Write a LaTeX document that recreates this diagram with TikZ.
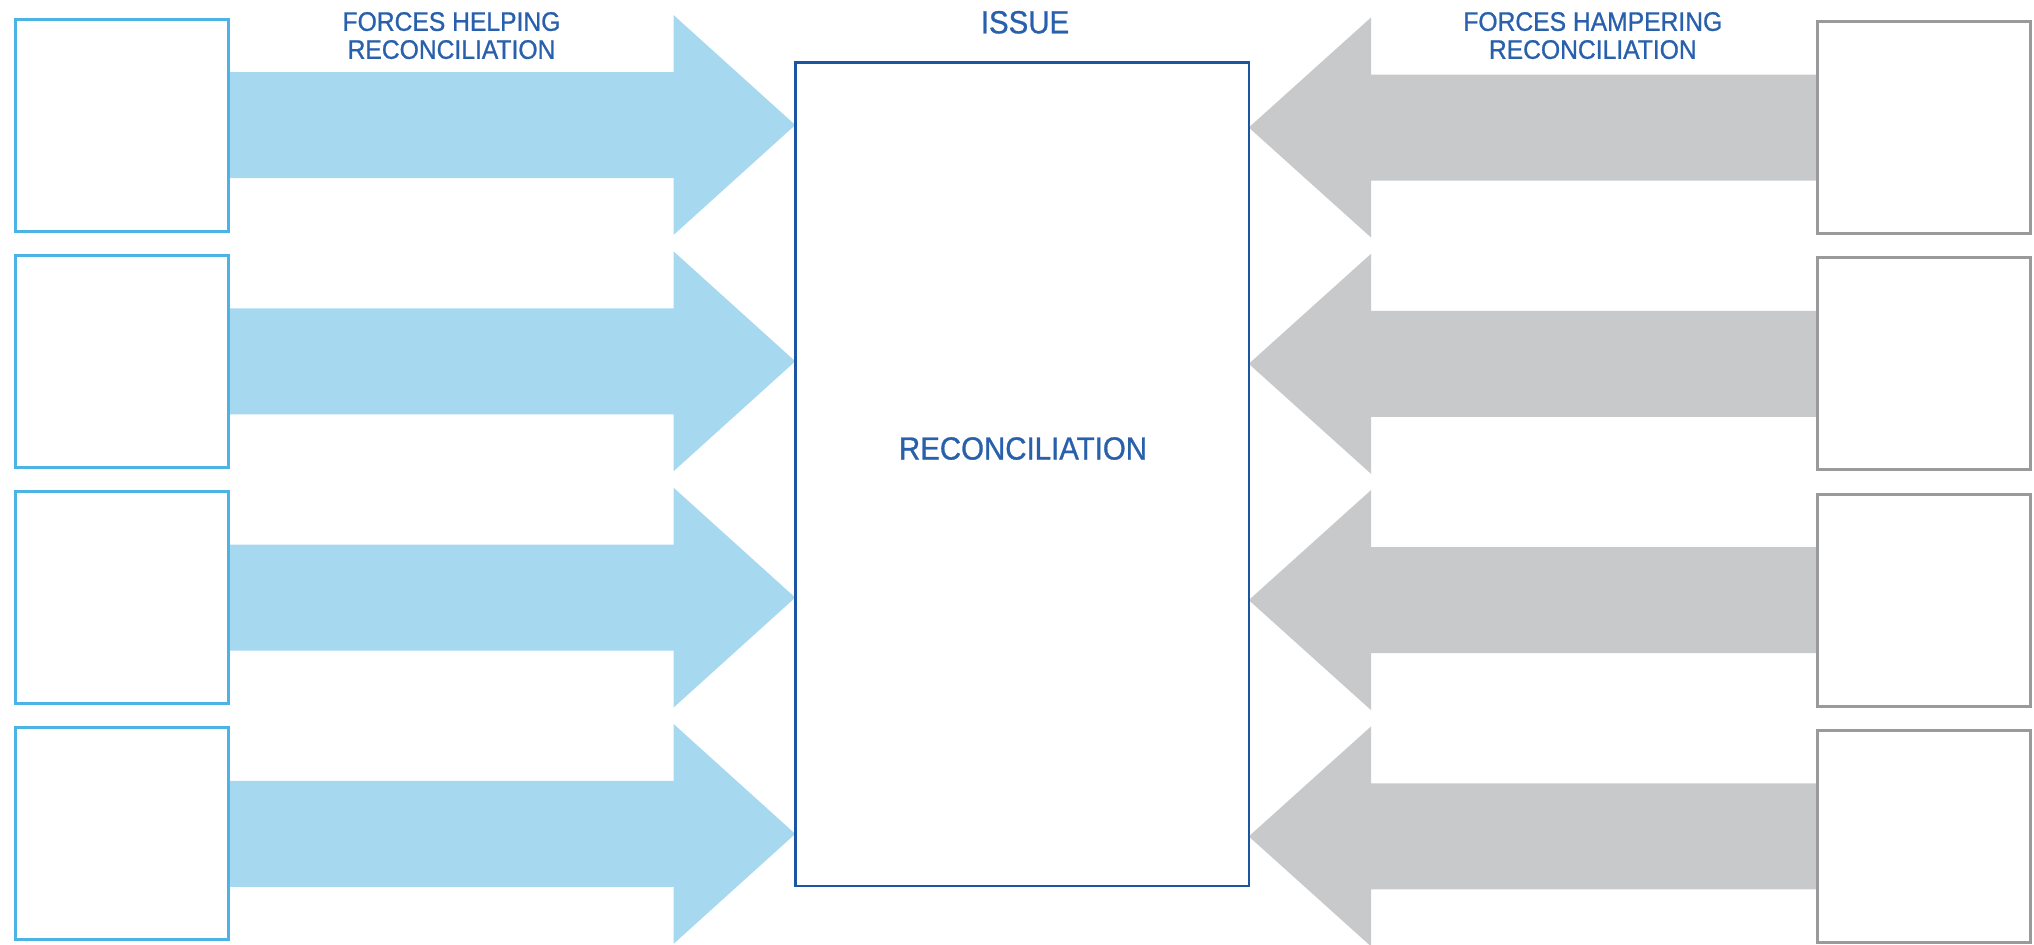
\documentclass[tikz,border=0pt]{standalone}
\usepackage{fontspec}
\setmainfont{Liberation Sans}[FakeStretch=0.92, FakeBold=0.9]
\usepackage{tikz}
\usetikzlibrary{calc,backgrounds}

\definecolor{helpfill}{HTML}{A6D8F0}
\definecolor{helpline}{HTML}{4BB3E5}
\definecolor{hampfill}{HTML}{C8C9CB}
\definecolor{hampline}{HTML}{9A9A9C}
\definecolor{issueline}{HTML}{1D56A0}
\definecolor{forcetext}{HTML}{2860AC}

\tikzset{
  forcebox/.style={line width=1.5pt, minimum width=108pt-\pgflinewidth, minimum height=107.5pt-\pgflinewidth, outer sep=0pt, inner sep=0pt},
  helpbox/.style={forcebox, draw=helpline},
  hampbox/.style={forcebox, draw=hampline},
  issuebox/.style={draw=issueline, line width=1.25pt, minimum width=228pt-\pgflinewidth, minimum height=413pt-\pgflinewidth, outer sep=0pt},
  forcelabel/.style={text=forcetext, inner sep=0pt, align=center, font=\fontsize{13.4pt}{14pt}\selectfont},
  issuelabel/.style={text=forcetext, inner sep=0pt, font=\fontsize{16pt}{18pt}\selectfont}
}

\begin{document}
\begin{tikzpicture}[x=0.5pt, y=-0.5pt]
            \useasboundingbox (0,0) rectangle (2034,944);
            \node[issuebox] (issue) at (1022,474) {};
            \node[issuelabel] (issuetitle) at (1025,22.3) {ISSUE};
            \node[issuelabel] (issuename) at (1023,448.5) {RECONCILIATION};
            \node[forcelabel, anchor=north] (helptitle) at (451.5,11.7) {FORCES HELPING\\RECONCILIATION};
            \node[forcelabel, anchor=north] (hamptitle) at (1592.8,11.7) {FORCES HAMPERING\\RECONCILIATION};
            \foreach \i in {1,...,4} {
                \pgfmathsetmacro\ly{125+236.3*(\i-1)}
                \pgfmathsetmacro\ry{127.5+236.3*(\i-1)}
                \node[helpbox] (help\i) at (122,\ly) {};
                \node[hampbox] (hamp\i) at (1923.5,\ry) {};
                \begin{scope}[on background layer]
                    \fill[helpfill] ($(help\i.east)+(0,-53)$) -- ($(help\i.east)+(445,-53)$) -- ($(help\i.east)+(445,-110)$)
                        -- (help\i.east -| issue.west) -- ($(help\i.east)+(445,110)$) -- ($(help\i.east)+(445,53)$)
                        -- ($(help\i.east)+(0,53)$) -- cycle;
                    \fill[hampfill] ($(hamp\i.west)+(0,-53)$) -- ($(hamp\i.west)+(-446,-53)$) -- ($(hamp\i.west)+(-446,-110)$)
                        -- (hamp\i.west -| issue.east) -- ($(hamp\i.west)+(-446,110)$) -- ($(hamp\i.west)+(-446,53)$)
                        -- ($(hamp\i.west)+(0,53)$) -- cycle;
                \end{scope}
            }
        \end{tikzpicture}
\end{document}
